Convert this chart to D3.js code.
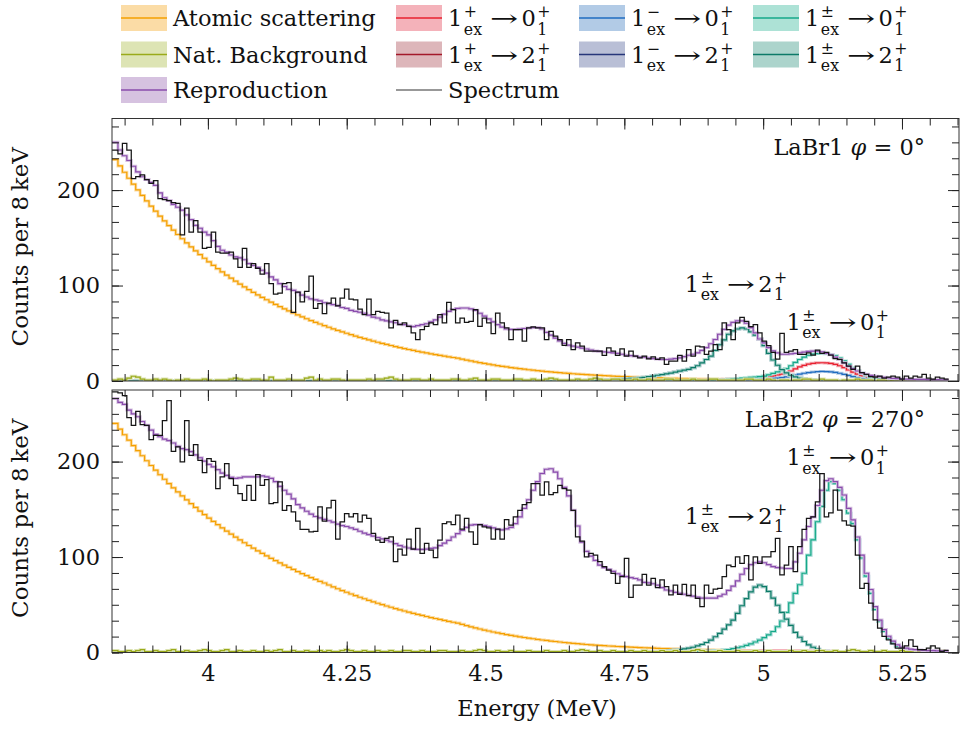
<!DOCTYPE html>
<html>
<head>
<meta charset="utf-8">
<title>LaBr spectra</title>
<style>
  body { margin: 0; background: #fff; }
  svg text { font-family: 'DejaVu Serif', serif; fill: #111; }
</style>
</head>
<body>
<div id="chart"></div>
<script src="https://cdn.jsdelivr.net/npm/d3@7/dist/d3.min.js"></script>
<script>
// 8 keV bins, first full bin edge at 3.830 MeV
var binStart = 3.830;
var binWidth = 0.008;

var xTicks = [4, 4.25, 4.5, 4.75, 5, 5.25];
var xTickLabels = ['4', '4.25', '4.5', '4.75', '5', '5.25'];
var yTicks = [0, 100, 200];

// ---------- LaBr1, phi = 0 ----------
var topSpectrum = [242,238,249,242,212,214,216,211,207,210,191,190,189,187,186,153,181,156,168,156,
  139,140,156,135,134,134,135,128,119,139,119,123,118,112,123,102,91,92,102,103,72,93,83,94,110,76,81,
  70.5,81.6,86.8,78.8,86.8,96.2,85.8,85,75.4,69.5,85.8,69.5,73,71.9,71.2,55.6,63.5,59,60.8,57.3,
  50.4,43.4,53.8,57.3,60.8,59,69.5,60.8,82.3,74.7,60.8,66,61.5,62.5,74.7,57.3,66,60.8,49.7,71.2,
  60.8,55.6,43.4,53.8,53.8,41.7,55.6,56.6,55.6,55.6,43.4,52,46.9,43.4,37.2,43.4,33,40,36.5,31.3,
  31.3,31.3,31.3,26.8,34.7,31.3,26.8,33.7,26,31.3,26,24.3,
  26,23.3,25.4,22.6,24.3,17.4,20.8,20.8,26.8,20.8,33,26,36.5,35.8,27.8,31.3,38.2,33,60.8,53.8,
  43.4,60.8,66.7,62.5,57,59,50.4,41.7,37,30,23,50,30,31.3,33,27.8,28,29.5,27,32.3,
  29,30,27,23.5,22.6,19,15.6,12.2,15.6,8.7,7,4.5,4,5,3,4,5,4,2,5,3,5,4,7,3,2,4,3,2];
var topRepro = [250,242,236,231,225,219,214,211,208,205,197,192,189,185,182,179,174,169,163,160,
  156,153,147,141,137,135,132,130,129,127,123,121,119,116,113,109,106,102,99,96,95,93,90,88,86,85,84,
  82,81,80,79,77,76,74,73,72,71,69,67,66,64,63,62,61,59.5,59,57.5,57,58,59,60,62,64,67,70,73,75,
  76,76.5,76.5,75.5,74,71,68,65,62,59,56.5,54.5,54,54,54.5,55,55.5,56,56,54.5,51,48,45,42,
  39.5,37.5,36.5,35.5,34.5,33.5,32.5,31.5,31,30.5,30,29.5,29,28,27,26.5,26,25,
  25,24,23.5,23,22.5,22.5,23,23.5,24.3,25.5,27,28,29.5,32,35,39,43.5,49,54,58.5,
  61.5,63,63,60.5,56,50.5,44,40,35,31.5,29.5,28,28,28.5,29,29.5,30.3,31,31.3,31.2,
  30.5,29,27.5,25,22.5,19,15.5,12.9,10.5,8.4,7,5.8,5,4.5,3.8,3.2,2.7,2.4,2.2,2,
  1.9,1.8,1.7,1.6,1.5,1.4,1.4,1.3,1.3];
var topAtomic = [232,225.3,218.7,212.4,206.2,200.2,194.4,188.7,183.2,177.9,172.7,167.7,162.8,158.1,153.5,
  149,144.7,140.5,136.4,132.4,128.6,124.8,121.2,117.7,114.3,110.9,107.7,104.6,101.5,98.6,95.7,92.9,
  90.2,87.6,85.1,82.6,80.2,77.9,75.6,73.4,71.3,69.2,67.2,65.2,63.3,61.5,59.7,58,56.3,54.6,53,
  51.5,50,48.5,47.1,45.7,44.4,43.1,41.8,40.6,39.4,38.3,37.2,36.1,35,34,33,32.1,31.1,30.2,29.4,
  28.5,27.7,26.9,26.1,25.3,24.6,23.9,
  22.9,21.9,21,20.1,19.2,18.4,17.6,16.8,16.1,15.4,14.8,14.1,13.5,12.9,12.4,11.8,11.3,10.8,10.4,9.9,
  9.5,9.1,8.7,8.3,8,7.6,7.3,7,6.7,6.4,6.1,5.9,5.6,5.4,5.1,4.9,4.7,4.5,4.3,4.1,3.9,3.8,3.6,3.4,
  3.3,3.2,3,2.9,2.8,2.6,2.5,2.4,2.3,2.2,2.1,2,1.9,1.8,1.8,1.7,1.6,1.5,1.5,1.4,1.3,1.3,1.2,1.2,
  1.1,1.1,1,
  1,0.9,0.9,0.8,0.8,0.8,0.7,0.7,0.7,0.6,0.6,0.6,0.5,0.5,0.5,0.5,0.4,0.4,0.4,0.4,0.4,
  0.3,0.3,0.3,0.3,0.3,0.3,0.2,0.2,0.2,0.2,0.2,0.2,0.2,0.2,0.2,0.2,0.2,0.2];
var topNatBg = [1,2,1,3,5,4,2,1,1,2,1,2,1,0,1,1,2,1,1,1,
  2,1,0,1,1,1,2,3,2,1,1,2,2,1,1,4,1,1,1,2,
  1,1,1,3,4,1,2,1,1,2,2,1,0,1,1,1,1,2,1,2,
  2,3,4,2,1,1,1,2,2,1,1,2,1,1,1,1,2,2,1,1,
  2,3,1,1,1,2,2,1,1,1,2,2,1,1,2,1,1,2,3,2,
  1,1,1,1,2,1,1,2,3,2,1,1,2,2,1,1,1,2,1,1,
  2,1,1,1,2,2,1,1,1,1,2,1,1,1,2,2,1,1,1,1,
  1,1,2,2,1,1,1,2,1,0,1,1,0,1,1,2,2,1,1,2,
  1,1,1,0,1,1,1,2,1,1,1,0,1,1,0,1,1,1,0,1,
  1,0,1,0,1,0,0,1];
// components: values start at the given bin index, zero elsewhere
var topP0Start = 130;   // 1+ -> 0+
var topP0 = [0.2,0.3,0.35,0.4,0.5,0.6,0.7,0.9,1.1,1.3,1.6,1.9,2.1,2.4,2.7,3,3.3,4.2,5.2,6.3,
  7.3,8.6,10.5,12.8,14.8,16.4,17.7,18.5,19,19.1,18.9,18.4,17.5,16,14,11.5,9.2,7.2,5.3,4,
  3,2.1,1.5,1,0.7,0.5,0.3,0.2,0.1];
var topP2Start = 125;   // 1+ -> 2+
var topP2 = [0.2,0.3,0.3,0.4,0.5,0.6,0.7,0.9,1.1,1.3,1.5,1.7,1.9,2,2.1,2.2,2.2,2.1,2,1.8,
  1.6,1.3,1,0.8,0.6,0.4,0.3,0.2,0.1];
var topM0Start = 130;   // 1- -> 0+
var topM0 = [0.1,0.1,0.15,0.2,0.25,0.3,0.35,0.4,0.45,0.5,0.6,0.7,0.9,1.1,1.3,1.6,1.9,2.3,2.7,3.1,
  3.6,4.3,5.2,6.2,7.2,8.1,8.8,9.4,9.8,10,9.9,9.6,9,8.1,7,5.8,4.6,3.5,2.6,1.9,1.4,1,0.7,0.5,0.3,0.2,0.1];
var topPM0Start = 130;  // 1+- -> 0+
var topPM0 = [0.3,0.35,0.4,0.5,0.7,0.9,1.1,1.4,1.8,2.2,2.6,3,3.4,3.8,4.2,4.6,5.2,6.5,8,9.5,
  11,13,16,19.5,22.5,25,27,28.2,28.7,28.8,28.5,27.8,26.5,24,21,17.5,14,11,8,6,
  4.5,3.3,2.5,1.8,1.3,0.9,0.6,0.4,0.3,0.2];
var topPM2Start = 100;  // 1+- -> 2+
var topPM2 = [0.3,0.35,0.4,0.45,0.5,0.6,0.7,0.8,0.9,1,1.2,1.4,1.6,1.8,2.1,2.4,2.7,3,3.3,3.9,
  4.5,5.2,6,6.7,7.5,8.3,9.3,10.4,11.3,12.2,14,16,19,22.5,26,32,38,43,49,52.5,
  54.5,55.6,54.5,51.5,48,44,37,29,22,16.5,12,8.5,6,4.3,3.1,2.3,1.7,1.2,0.8,0.5,0.3,0.2,0.1];

// ---------- LaBr2, phi = 270 ----------
var botSpectrum = [273,272,269,246,238,252.5,238.6,238,223,227.5,227.5,243,264,210.7,215.3,199.6,243,206.6,217.7,201.3,
  188.4,203,200.3,171.7,184,197.8,182.2,175.2,166.5,159.5,175,159.5,186.4,175,181,156,157,178.7,149,154,
  147.3,137.6,129,129,126.5,127,152.6,
  137.6,151.5,159.5,118.8,136.9,145.6,142,145.6,136.9,143.9,140.4,124.7,117.7,115.3,119.5,121.2,95.1,108.3,102,118.8,
  108.3,130,103.8,114.3,107.3,99.3,117.7,135,136.9,134,143.9,129.3,140.4,126.5,113.2,134,131.7,130.6,118.8,129.3,
  118.8,139.3,133.4,142,149,155,157,177,177,164.8,178.7,165.5,167.5,175.2,171.7,170,149,121.2,116.7,100.3,
  103.8,102,95.1,89.9,86.4,82.9,72.5,79.4,98.6,57.8,70.7,70.7,
  81.9,70.7,77.7,68,76,69,60.3,70.7,61,71.4,59.6,70.7,56.8,48,70.7,62,66.5,67.2,79.4,91.6,
  89.9,100.3,93.4,101.4,76,100.3,93.4,100.3,100.3,105.6,119.5,81.2,91.6,
  110.8,84.7,110.8,129,140.4,142.2,157.9,187.5,142.2,146.4,170,149.2,138,133.5,132.4,102.1,67.3,72.5,51.6,34.2,
  25.5,16.8,13.3,9.1,4.6,4.6,7,13.3,6.3,2.9,2.9,4.6,7,4.6,1.1,2.2];
var botRepro = [266,262,260,254,250,247,242,238,233,228.5,226,223.5,222,219.5,216,213.5,212.5,210.5,207,204,
  200.5,197,194.5,191.5,188,185.5,183.5,182.5,183,184,184,184,184,185,184,182.5,179,174,170,166,
  161,155,151.5,148,145,142.5,141,
  139.5,138,136.5,134.5,133,132,130.5,129,127,125,123.5,122,120.5,119,117.7,116,114,112,110.5,109.5,
  108.5,108,108,108.3,109,109.7,112,114.5,117.5,121,124.5,128,131,133.5,134,134,133,132,130.5,129,
  128.5,129.5,131,135,142,151,160,170,179,187.5,192,192.5,189,182,173,164,149,132.5,115.5,106,
  101,96.5,91.6,89,87,85,82.5,80.5,79.5,78.5,77.5,76,
  73.5,73,72,70.5,68,65.5,64.5,63,62,61,60,59,58,57,57,57,57,59,61,65,
  69.5,75,82,88,92,94,95,94,92,90,89,88.5,88,
  88,95,104,118,132,142,154,170,180,182,179,173,165,151,139,121,102,83,66,48,
  34,24,17,12,8,5.7,4.5,3.5,3,2.5,2.2,2,2,1.8,1.7,1.6];
var botAtomic = [240,234,228.1,222.4,216.8,211.4,206.1,200.9,195.9,191,186.2,181.5,177,172.5,168.2,164,
  159.9,155.9,152,148.2,144.5,140.8,137.3,133.9,130.5,127.2,124.1,120.9,117.9,115,112.1,109.3,
  106.5,103.9,101.3,98.7,96.3,93.8,91.5,89.2,87,84.8,82.6,80.6,78.5,76.6,74.6,72.8,
  70.7,68.7,66.8,64.9,63.1,61.3,59.6,57.9,56.3,54.7,53.1,51.6,50.2,48.7,47.4,46,44.7,43.5,42.2,41,
  39.9,38.8,37.7,36.6,35.6,34.6,33.6,32.6,31.7,30.8,
  29.5,28.2,26.9,25.7,24.6,23.5,22.5,21.5,20.6,19.7,18.8,18,17.2,16.4,15.7,15,14.4,13.7,13.1,12.6,
  12,11.5,11,10.5,10,9.6,9.2,8.8,8.4,8,
  7.7,7.4,7.1,6.8,6.6,6.3,6.1,5.8,5.6,5.4,5.2,5,4.8,4.6,4.4,4.2,4.1,3.9,3.8,3.6,3.5,3.4,3.2,3.1,
  3,2.9,2.8,2.7,2.5,2.4,2.4,2.3,2.2,2.1,2,1.9,1.9,1.8,1.7,1.7,1.6,1.5,1.5,
  1.4,1.4,1.3,1.3,1.2,1.2,1.1,1.1,1,1,1,0.9,0.9,0.9,0.8,0.8,0.8,0.7,0.7,0.7,0.7,
  0.6,0.6,0.6,0.6,0.5,0.5,0.5,0.5,0.5,0.4,0.4,0.4,0.4,0.4,0.4,0.3];
var botNatBg = [2,1,1,2,1,2,3,1,1,2,1,1,2,3,1,1,2,1,1,2,
  3,2,1,1,2,3,1,1,2,1,1,2,1,1,2,1,2,3,1,1,
  2,1,1,2,1,1,2,1,2,1,1,2,3,2,1,1,2,1,1,2,
  1,1,2,1,1,2,2,1,1,2,1,1,1,2,2,1,1,1,2,1,
  1,2,3,2,1,1,2,1,1,2,1,1,1,2,1,1,1,2,1,1,
  1,2,1,1,2,3,2,1,1,2,1,1,2,1,1,1,2,1,1,2,
  1,1,1,2,1,1,2,1,1,1,2,3,2,1,1,1,2,1,1,1,
  2,1,1,1,2,1,1,2,1,1,1,1,2,1,1,2,1,1,2,2,
  1,1,2,1,1,2,3,2,1,1,2,1,1,2,1,1,1,2,1,1,
  2,1,1,2,1,1,2,1];
var botP0Start = 130;
var botP0 = [0.3,0.4,0.5,0.6,0.7,0.8,0.9,1,1.1,1.2,1.3,1.4,1.5,1.6,1.7,1.8,1.9,2,2,2,
  2,2,1.9,1.9,1.8,1.8,1.7,1.6,1.5,1.4,1.3,1.2,1.1,1,0.9,0.8,0.7,0.6,0.5,0.4,0.3,0.2,0.1];
var botP2Start = 135;
var botP2 = [0.2,0.3,0.4,0.6,0.7,0.9,1,1.1,1.2,1.2,1.2,1.1,1,0.9,0.7,0.6,0.4,0.3,0.2,0.1];
var botPM0Start = 125;
var botPM0 = [0.3,0.4,0.5,0.6,0.7,0.8,1,1.1,1.3,1.5,1.8,2.1,2.5,3,4,5,6,7.5,9,11,
  13,15.5,18.5,22,27,33,42,52,62,71,83,102,118,137,153,170,179,177,170,160,
  146,135,118,99,80,62,45,32.5,22,15,10,6.3,3.6,2.2,1.3,0.8,0.5,0.3,0.2];
var botPM2Start = 110;
var botPM2 = [0.1,0.15,0.2,0.25,0.3,0.35,0.4,0.5,0.6,0.7,0.8,0.9,1,1.2,1.5,2,2.5,3,3.8,4.5,
  5.5,7,8.5,10.5,13,16.5,20,24.5,29,34,41,49,56.5,63.5,68.5,70.7,69,64,57,49.5,
  42,35,28.5,21,16,11.5,8,5.5,3.5,2.2,1.3,0.7,0.3];

var colors = {
  atomic:   ['#f5a000', '#fbdca6'],
  nat:      ['#9aaa1a', '#dde4b4'],
  repro:    ['#8a4cad', '#d6c2e0'],
  p0:       ['#e8202f', '#f4b2ba'],
  p2:       ['#a3192a', '#ddb6ba'],
  m0:       ['#1f6cc0', '#b2cbe6'],
  m2:       ['#27367a', '#b9bfd6'],
  pm0:      ['#16a88a', '#ade2d6'],
  pm2:      ['#0c7a68', '#acd4cc']
};

var width = 971, height = 729;
var plotLeft = 112, plotRight = 959;
var panels = [
  { top: 118.5, bottom: 381, title: ['LaBr1 ', ' = 0°'],
    spectrum: topSpectrum, repro: topRepro, atomic: topAtomic, nat: topNatBg,
    comps: [['p0', topP0, topP0Start], ['p2', topP2, topP2Start], ['m0', topM0, topM0Start],
            ['m2', topPM2, topPM2Start], ['pm0', topPM0, topPM0Start], ['pm2', topPM2, topPM2Start]],
    notes: [[4.859, 93.7, '2'], [5.042, 53.5, '0']] },
  { top: 390, bottom: 652.5, title: ['LaBr2 ', ' = 270°'],
    spectrum: botSpectrum, repro: botRepro, atomic: botAtomic, nat: botNatBg,
    comps: [['p0', botP0, botP0Start], ['p2', botP2, botP2Start], ['m0', botPM0, botPM0Start],
            ['m2', botPM2, botPM2Start], ['pm0', botPM0, botPM0Start], ['pm2', botPM2, botPM2Start]],
    notes: [[5.042, 196, '0'], [4.859, 135, '2']] }
];

var svg = d3.select('#chart').append('svg')
  .attr('width', width).attr('height', height);

var x = d3.scaleLinear().domain([3.8273, 5.3527]).range([plotLeft, plotRight]);
var nBins = topSpectrum.length;

function stepPoints(vals, start, n) {
  var pts = [];
  for (var k = 0; k < n; k++) {
    var j = k - start;
    var v = (j >= 0 && j < vals.length) ? vals[j] : 0;
    pts.push([binStart + k * binWidth, v]);
  }
  pts.push([binStart + n * binWidth, pts[pts.length - 1][1]]);
  pts.unshift([x.domain()[0], pts[0][1]]);
  return pts;
}

// text with LaTeX-like stacked sup/sub (sup and sub share one text element)
function mathText(g, x0, y0, parts, size) {
  var cx = x0;
  parts.forEach(function(p) {
    if (p.arrow) {
      cx += size * 0.35;
      g.append('text').attr('x', cx).attr('y', y0).attr('font-size', size)
        .attr('textLength', size * 1.25).attr('lengthAdjust', 'spacingAndGlyphs').text('→');
      cx += size * 1.25 + size * 0.15;
      return;
    }
    var t = g.append('text').attr('x', cx).attr('y', y0).attr('font-size', size).text(p.base);
    cx += t.node().getComputedTextLength() + 1.5;
    var scr = g.append('text').attr('font-size', size * 0.7);
    var s = scr.append('tspan').attr('x', cx).attr('y', y0 - size * 0.4).text(p.sup);
    var b = scr.append('tspan').attr('x', cx).attr('y', y0 + size * 0.38).text(p.sub);
    cx += Math.max(s.node().getComputedTextLength(), b.node().getComputedTextLength());
  });
}
function transition(sup, to) {
  return [{ base: '1', sup: sup, sub: 'ex' }, { arrow: true }, { base: to, sup: '+', sub: '1' }];
}

var fs = 22.5;

panels.forEach(function(p, pi) {
  var y = d3.scaleLinear().domain([0, 275]).range([p.bottom, p.top]);
  var line = d3.line().x(function(d) { return x(d[0]); }).y(function(d) { return y(d[1]); })
    .curve(d3.curveStepAfter);

  svg.append('clipPath').attr('id', 'clip' + pi).append('rect')
    .attr('x', plotLeft).attr('y', p.top).attr('width', plotRight - plotLeft).attr('height', p.bottom - p.top);
  var g = svg.append('g').attr('clip-path', 'url(#clip' + pi + ')');

  function draw(key, vals, start, n) {
    var pts = stepPoints(vals, start, n);
    g.append('path').attr('d', line(pts)).attr('fill', 'none')
      .attr('stroke', colors[key][1]).attr('stroke-width', 3);
    g.append('path').attr('d', line(pts)).attr('fill', 'none')
      .attr('stroke', colors[key][0]).attr('stroke-width', 1.2);
  }

  draw('atomic', p.atomic, 0, p.atomic.length);
  p.comps.forEach(function(c) { draw(c[0], c[1], c[2], nBins); });
  draw('nat', p.nat, 0, p.nat.length);
  draw('repro', p.repro, 0, p.repro.length);

  g.append('path').attr('d', line(stepPoints(p.spectrum, 0, p.spectrum.length)))
    .attr('fill', 'none').attr('stroke', '#151515').attr('stroke-width', 1.25);

  // frame and ticks
  svg.append('rect').attr('x', plotLeft).attr('y', p.top)
    .attr('width', plotRight - plotLeft).attr('height', p.bottom - p.top)
    .attr('fill', 'none').attr('stroke', '#333').attr('stroke-width', 1);

  var xMinor = d3.range(3.85, 5.36, 0.05);
  var yMinor = d3.range(0, 275, 100 / 6);

  function axisG(axis, tx, ty) {
    var a = svg.append('g').attr('transform', 'translate(' + tx + ',' + ty + ')').call(axis);
    a.select('.domain').remove();
    a.selectAll('line').attr('stroke', '#222');
    return a;
  }
  axisG(d3.axisTop(x).tickValues(xMinor).tickSize(-7).tickFormat(''), 0, p.top);
  axisG(d3.axisTop(x).tickValues(xTicks).tickSize(-11).tickFormat(''), 0, p.top);
  axisG(d3.axisBottom(x).tickValues(xMinor).tickSize(-7).tickFormat(''), 0, p.bottom);
  var xa = axisG(d3.axisBottom(x).tickValues(xTicks).tickSize(-11).tickPadding(13)
    .tickFormat(function(d, i) { return pi === 1 ? xTickLabels[i] : ''; }), 0, p.bottom);
  xa.selectAll('text').attr('font-size', fs).attr('font-family', 'DejaVu Serif').attr('fill', '#111');

  axisG(d3.axisLeft(y).tickValues(yMinor).tickSize(-7).tickFormat(''), plotLeft, 0);
  var ya = axisG(d3.axisLeft(y).tickValues(yTicks).tickSize(-11).tickPadding(12), plotLeft, 0);
  ya.selectAll('text').attr('font-size', fs).attr('font-family', 'DejaVu Serif').attr('fill', '#111');
  axisG(d3.axisRight(y).tickValues(yMinor).tickSize(-7).tickFormat(''), plotRight, 0);
  axisG(d3.axisRight(y).tickValues(yTicks).tickSize(-11).tickFormat(''), plotRight, 0);

  // y label
  svg.append('text').attr('transform', 'translate(28,' + ((p.top + p.bottom) / 2 - 3) + ') rotate(-90)')
    .attr('text-anchor', 'middle').attr('font-size', 23).text('Counts per 8\u2009keV');

  // detector title
  var t = svg.append('text').attr('x', plotRight - 34).attr('y', p.top + 36.5)
    .attr('text-anchor', 'end').attr('font-size', fs);
  t.append('tspan').text(p.title[0]);
  t.append('tspan').attr('font-style', 'italic').text('φ');
  t.append('tspan').text(p.title[1]);

  // peak annotations
  p.notes.forEach(function(n) {
    mathText(svg.append('g'), x(n[0]), y(n[1]), transition('±', n[2]), fs);
  });
});

svg.append('text').attr('x', 537).attr('y', 716).attr('text-anchor', 'middle')
  .attr('font-size', fs).text('Energy (MeV)');

// legend
var legendItems = [
  { key: 'atomic', col: 0, row: 0, text: 'Atomic scattering' },
  { key: 'nat', col: 0, row: 1, text: 'Nat. Background' },
  { key: 'repro', col: 0, row: 2, text: 'Reproduction' },
  { key: 'p0', col: 1, row: 0, math: transition('+', '0') },
  { key: 'p2', col: 1, row: 1, math: transition('+', '2') },
  { key: 'spec', col: 1, row: 2, text: 'Spectrum' },
  { key: 'm0', col: 2, row: 0, math: transition('−', '0') },
  { key: 'm2', col: 2, row: 1, math: transition('−', '2') },
  { key: 'pm0', col: 3, row: 0, math: transition('±', '0') },
  { key: 'pm2', col: 3, row: 1, math: transition('±', '2') }
];
var legCols = [121, 396, 579, 753];
var legRows = [18, 54.5, 90];
var legend = svg.append('g');
legendItems.forEach(function(it) {
  var lx = legCols[it.col], ly = legRows[it.row];
  if (it.key !== 'spec') {
    legend.append('rect').attr('x', lx).attr('y', ly - 13).attr('width', 46).attr('height', 26)
      .attr('fill', colors[it.key][1]);
    legend.append('line').attr('x1', lx).attr('x2', lx + 46).attr('y1', ly).attr('y2', ly)
      .attr('stroke', colors[it.key][0]).attr('stroke-width', 1.6);
  } else {
    legend.append('line').attr('x1', lx).attr('x2', lx + 46).attr('y1', ly).attr('y2', ly)
      .attr('stroke', '#333').attr('stroke-width', 1.2);
  }
  if (it.text) {
    legend.append('text').attr('x', lx + 52).attr('y', ly + 8).attr('font-size', fs).text(it.text);
  } else {
    mathText(legend.append('g'), lx + 52, ly + 8, it.math, fs);
  }
});
</script>
</body>
</html>
